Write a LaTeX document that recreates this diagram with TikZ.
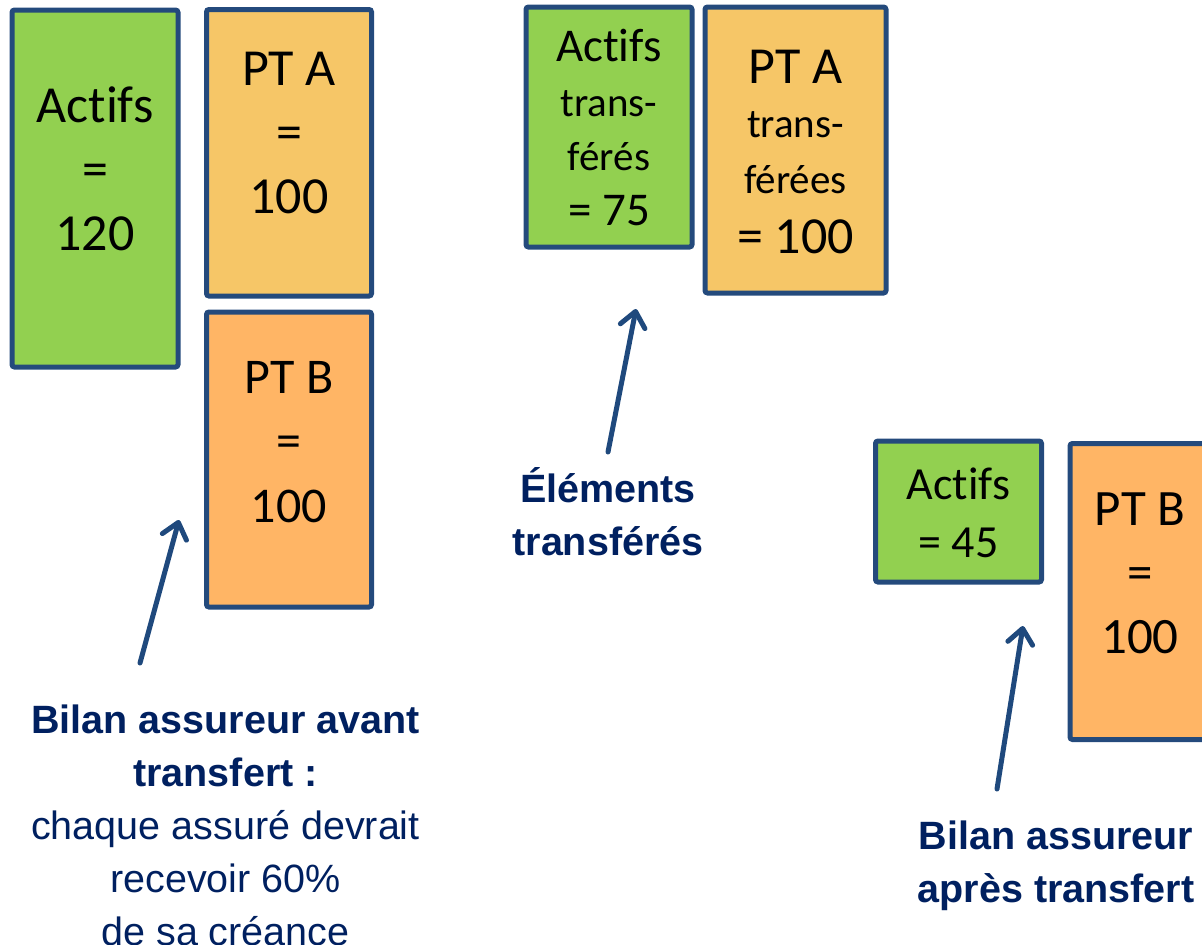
\documentclass[tikz,border=0pt]{standalone}
\usepackage{fontspec}
\setmainfont[Ligatures=NoCommon]{Carlito}
\newfontfamily\labfont{Liberation Sans}
\usetikzlibrary{arrows.meta}
\definecolor{vert}{HTML}{92D050}
\definecolor{orA}{HTML}{F6C667}
\definecolor{orB}{HTML}{FFB565}
\definecolor{bord}{HTML}{244A7C}
\definecolor{fleche}{HTML}{1F497D}
\definecolor{navy}{HTML}{002060}
\begin{document}
\begin{tikzpicture}[x=1pt,y=-1pt,
  bilan/.style={draw=bord, line width=5pt, rounded corners=2.5pt, inner sep=0pt},
  boxtxt/.style={align=center, inner sep=0pt, anchor=base, text=black},
  big/.style={font=\fontsize{52}{64}\selectfont},
  lbl/.style={align=center, inner sep=0pt, anchor=base, text=navy, font=\labfont\fontsize{39.5}{53}\selectfont},
  fl/.style={draw=fleche, line width=5pt, line cap=round,
    -{Straight Barb[length=15pt, width=25pt, line width=5pt, round]}}
]
\useasboundingbox (0,0) rectangle (1202,945);
\clip (0,0) rectangle (1202,945);

% boxes
\node[bilan, fill=vert, minimum width=166pt, minimum height=357pt] (actifsA) at (95,188.5) {};
\node[bilan, fill=orA, minimum width=165pt, minimum height=286.5pt] (ptaA) at (289,152.75) {};
\node[bilan, fill=orB, minimum width=165pt, minimum height=295pt] (ptbA) at (289,459.5) {};
\node[bilan, fill=vert, minimum width=166pt, minimum height=240pt] (actifsT) at (609,127) {};
\node[bilan, fill=orA, minimum width=181pt, minimum height=286pt] (ptaT) at (795.5,150) {};
\node[bilan, fill=vert, minimum width=166pt, minimum height=141pt] (actifsB) at (958.5,511.5) {};
\node[bilan, fill=orB, minimum width=140pt, minimum height=296pt] (ptbB) at (1140,591.5) {};

% box texts (anchor=base is the baseline of the last line)
\node[boxtxt, big] (actifsAt) at (95,250) {Actifs\\=\\120};
\node[boxtxt, big] (ptaAt) at (289,213) {PT A\\=\\100};
\node[boxtxt, font=\fontsize{50}{64.5}\selectfont] (ptbAt) at (289,522) {PT B\\=\\100};
\node[boxtxt, font=\fontsize{41}{54.5}\selectfont] (actifsTt) at (609,225)
  {{\fontsize{47}{54.5}\selectfont Actifs}\\trans-\\férés\\{\fontsize{47}{54.5}\selectfont = 75}};
\node[boxtxt, font=\fontsize{41}{54}\selectfont] (ptaTt) at (795.5,253)
  {{\fontsize{52}{54}\selectfont PT A}\\trans-\\[2pt]férées\\[6pt]{\fontsize{52}{54}\selectfont = 100}};
\node[boxtxt, font=\fontsize{46}{58}\selectfont] (actifsBt) at (958.5,557) {Actifs\\= 45};
\node[boxtxt, font=\fontsize{51}{64}\selectfont] (ptbBt) at (1140,653) {PT B\\=\\100};

% labels
\node[lbl] (labA) at (225.5,945)
  {\textbf{Bilan assureur avant}\\\textbf{transfert :}\\chaque assuré devrait\\recevoir 60\%\\de sa créance};
\node[lbl] (labT) at (608,555) {\textbf{Éléments}\\\textbf{transférés}};
\node[lbl] (labB) at (1056,902) {\textbf{Bilan assureur}\\\textbf{après transfert}};

% arrows
\coordinate (fAq) at (140,663);
\coordinate (fAt) at (179,520);
\coordinate (fTq) at (608,452);
\coordinate (fTt) at (636,309);
\coordinate (fBq) at (997,789);
\coordinate (fBt) at (1023,626);
\draw[fl] (fAq) -- (fAt);
\draw[fl] (fTq) -- (fTt);
\draw[fl] (fBq) -- (fBt);
\end{tikzpicture}
\end{document}
